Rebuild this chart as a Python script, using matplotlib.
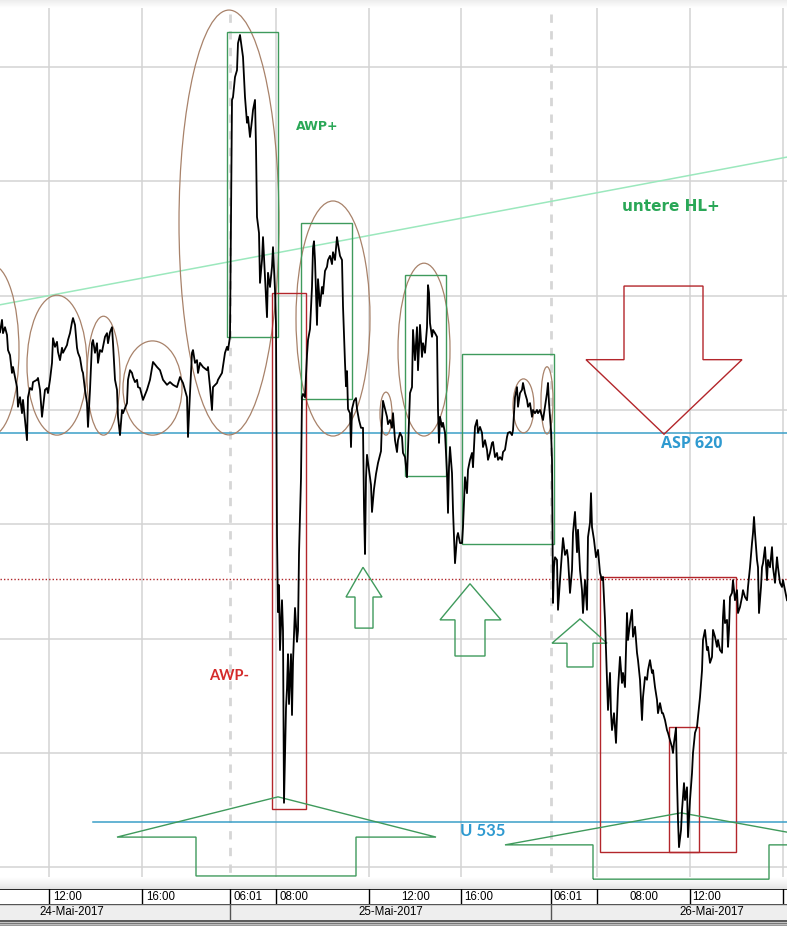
# %%
import numpy as np
import matplotlib.pyplot as plt
from matplotlib.patches import Ellipse, Rectangle, Polygon

# %%
# Kursverlauf (Balken-Index, Kurs) - abgelesen, je Handelstag
bars_24 = [0, 2, 3, 5, 7, 8, 10, 12, 13, 15, 17, 18, 20, 22, 23, 25, 27, 28, 30, 32, 33, 37, 38, 40,
           42, 43, 45, 47, 48, 50, 52, 53, 55, 57, 58, 60, 62, 63, 67, 68, 70, 72, 73, 75, 77, 78,
           80, 82, 83, 85, 87, 88, 90, 92, 93, 95, 97, 98, 100, 102, 103, 105, 107, 108, 110, 112,
           113, 115, 117, 118, 120, 122, 123, 125, 127, 128, 130, 132, 133, 135, 137, 138, 140, 143,
           147, 150, 153, 157, 160, 163, 167, 170, 173, 177, 180, 183, 187, 188, 190, 192, 193, 195,
           197, 198, 200, 203, 207, 208, 210, 212, 213, 217, 218, 222, 225, 227, 228, 230]
price_24 = [642.0, 644.7, 641.8, 643.1, 641.4, 638.1, 637.0, 633.1, 634.4, 632.2, 630.0, 625.7, 627.8,
            624.3, 627.2, 622.8, 618.4, 627.8, 629.8, 629.4, 631.1, 631.6, 632.0, 629.4, 623.5, 625.4,
            629.4, 629.8, 628.7, 631.6, 635.3, 640.7, 638.8, 639.9, 637.7, 635.9, 638.6, 637.5, 639.2,
            640.3, 641.8, 644.2, 645.1, 643.6, 638.6, 637.5, 636.4, 633.7, 633.1, 629.4, 626.5, 621.3,
            629.4, 639.6, 640.3, 637.5, 639.6, 635.3, 638.1, 637.7, 638.8, 641.0, 641.8, 639.6, 642.0,
            643.1, 639.6, 631.6, 629.4, 623.5, 619.5, 625.0, 624.3, 625.4, 626.5, 631.6, 633.7, 633.1,
            632.2, 631.1, 631.6, 630.0, 629.8, 627.2, 629.4, 631.6, 635.5, 634.4, 633.7, 631.6, 630.5,
            631.1, 630.5, 630.0, 632.2, 630.9, 627.8, 619.1, 628.7, 637.5, 638.1, 635.3, 635.9, 633.1,
            635.3, 634.4, 633.7, 634.4, 630.0, 625.0, 630.0, 630.9, 631.6, 633.1, 637.5, 638.8, 638.1,
            641.0]

bars_25 = [232, 233, 235, 237, 238, 240, 242, 243, 245, 247, 248, 250, 252, 253, 255, 256, 257, 259,
           260, 262, 263, 265, 267, 268, 270, 272, 273, 275, 276, 277, 278, 279, 280, 282, 283, 284,
           286, 287, 288, 289, 291, 292, 293, 295, 297, 298, 299, 301, 302, 303, 305, 307, 308, 310,
           312, 313, 314, 315, 317, 318, 320, 322, 323, 325, 327, 328, 330, 332, 333, 335, 337, 338,
           340, 342, 343, 345, 346, 347, 348, 350, 351, 352, 354, 356, 357, 359, 361, 363, 364, 365,
           366, 367, 369, 371, 372, 374, 376, 378, 379, 381, 382, 383, 385, 387, 388, 390, 392, 393,
           395, 397, 398, 400, 402, 403, 405, 407, 408, 410, 412, 413, 415, 417, 418, 420, 422, 423,
           425, 427, 428, 429, 430, 432, 433, 435, 437, 438, 439, 440, 442, 443, 445, 447, 448, 449,
           450, 452, 453, 454, 455, 457, 458, 460, 462, 463, 465, 467, 468, 470, 472, 473, 475, 477,
           478, 480, 482, 483, 485, 487, 488, 490, 492, 493, 495, 497, 498, 500, 502, 503, 505, 507,
           508, 510, 512, 513, 515, 517, 518, 520, 522, 523, 525, 527, 528, 530, 532, 533, 535, 537,
           538, 540, 542, 543, 545, 547, 548, 549, 551]
price_25 = [692.8, 693.4, 697.8, 699.3, 705.2, 707.0, 703.7, 702.2, 693.4, 687.8, 689.1, 684.7, 688.4,
            690.6, 692.8, 682.5, 667.2, 663.7, 652.8, 657.8, 662.8, 654.1, 645.3, 655.0, 651.9, 656.3,
            660.6, 651.2, 643.6, 597.7, 580.8, 586.7, 572.5, 583.4, 576.7, 539.1, 559.8, 564.2, 571.6,
            560.7, 571.6, 558.3, 569.9, 581.7, 574.3, 576.7, 593.5, 610.1, 627.8, 628.5, 627.8, 637.0,
            640.3, 642.7, 651.9, 660.4, 661.9, 657.8, 643.6, 653.6, 647.7, 651.9, 650.4, 655.4, 656.3,
            657.8, 658.7, 656.9, 659.5, 657.8, 662.8, 661.3, 658.7, 657.8, 647.7, 635.3, 630.2, 633.5,
            625.2, 624.3, 616.9, 625.2, 627.0, 627.6, 625.2, 622.8, 621.1, 621.1, 603.6, 593.5, 610.1,
            615.2, 611.9, 608.6, 602.7, 607.7, 611.0, 613.4, 614.3, 616.0, 622.8, 627.0, 625.2, 623.5,
            621.9, 622.8, 621.1, 624.3, 618.4, 615.8, 618.4, 620.0, 619.1, 615.6, 614.7, 610.3, 616.3,
            628.7, 630.0, 642.5, 635.9, 643.1, 633.7, 643.6, 636.6, 639.6, 637.5, 643.1, 652.3, 650.6,
            644.0, 641.0, 642.5, 641.8, 641.0, 625.0, 617.8, 623.5, 621.3, 622.2, 620.0, 611.2, 602.5,
            612.5, 616.9, 611.2, 603.1, 597.2, 591.5, 597.2, 598.1, 595.9, 595.9, 599.4, 610.3, 606.8,
            611.9, 614.1, 615.6, 612.5, 621.3, 622.8, 620.0, 621.3, 620.0, 616.9, 618.4, 616.3, 614.1,
            615.6, 617.8, 618.0, 614.7, 615.6, 614.1, 614.7, 614.1, 615.8, 616.3, 619.1, 620.0, 620.2,
            619.5, 620.6, 627.8, 630.0, 625.7, 628.7, 629.4, 630.9, 628.7, 627.2, 625.7, 626.5, 623.5,
            625.0, 624.3, 625.0, 624.3, 625.0, 623.5, 622.8, 625.7, 628.7, 630.9, 626.5, 620.6]

bars_26 = [552, 553, 554, 555, 557, 558, 560, 562, 563, 565, 567, 568, 570, 572, 573, 575, 577, 578,
           580, 582, 583, 585, 587, 588, 590, 591, 592, 594, 596, 598, 600, 602, 603, 605, 607, 608,
           610, 611, 612, 614, 616, 618, 620, 622, 623, 625, 627, 628, 630, 632, 633, 635, 637, 638,
           640, 642, 643, 645, 647, 648, 650, 652, 653, 655, 657, 658, 660, 662, 663, 665, 667, 668,
           670, 672, 673, 674, 676, 677, 678, 679, 681, 682, 684, 685, 687, 688, 690, 692, 693, 695,
           697, 698, 700, 702, 703, 705, 707, 708, 710, 712, 713, 715, 717, 718, 720, 722, 723, 724,
           725, 727, 728, 729, 730, 732, 733, 735, 737, 738, 740, 742, 743, 745, 747, 748, 750, 752,
           753, 754, 755, 757, 758, 759, 761, 762, 763, 765, 767, 768, 770, 772, 773, 775, 777, 778,
           780, 782, 783, 785, 787]
price_26 = [614.1, 582.8, 590.7, 592.8, 592.2, 581.3, 587.8, 593.9, 597.0, 593.3, 594.4, 592.6, 585.0,
            590.0, 598.1, 602.7, 593.9, 598.8, 590.0, 585.6, 580.6, 587.8, 581.3, 597.2, 600.3, 606.8,
            599.4, 596.6, 592.8, 594.4, 589.4, 587.8, 588.5, 579.1, 566.0, 559.4, 567.5, 558.7, 555.0,
            558.7, 552.2, 563.8, 571.0, 565.3, 567.5, 564.4, 580.6, 574.7, 578.4, 581.3, 575.4, 577.6,
            571.9, 570.3, 566.0, 557.2, 562.2, 566.6, 566.0, 568.1, 570.3, 567.5, 568.1, 564.4, 561.6,
            558.7, 560.9, 558.7, 558.7, 557.2, 555.0, 554.4, 552.8, 551.3, 550.0, 552.2, 555.5, 544.1,
            535.3, 529.4, 533.1, 537.5, 543.4, 539.7, 542.5, 531.6, 539.7, 545.6, 550.0, 554.4, 555.7,
            557.9, 562.2, 568.0, 574.7, 576.9, 572.5, 573.2, 569.7, 571.0, 576.9, 575.4, 573.2, 574.7,
            572.5, 571.9, 579.7, 583.4, 578.4, 579.1, 573.2, 576.9, 584.1, 585.0, 587.8, 583.4, 585.6,
            580.6, 581.9, 584.1, 585.6, 584.1, 583.4, 586.3, 590.6, 595.9, 598.1, 601.6, 598.1, 592.2,
            590.6, 580.6, 586.3, 590.6, 591.5, 595.0, 587.8, 592.2, 590.6, 595.0, 590.6, 587.2, 592.8,
            590.6, 587.2, 586.3, 587.8, 585.6, 583.4]

# Zeitachse
grid_bars = [49, 142, 276, 369, 461, 597, 690, 783]
session_bars = [230, 551]
time_label_bars = [53, 146, 233, 280, 401, 464, 554, 630, 692]
time_labels = ['12:00', '16:00', '06:01', '08:00', '12:00', '16:00', '06:01', '08:00', '12:00']
date_centers = [72, 391, 712]
date_labels = ['24-Mai-2017', '25-Mai-2017', '26-Mai-2017']
price_grid = [700, 675, 650, 625, 600, 575, 550, 525]

# Marken
asp_level = 620
u_level = 535
red_level = 588
hl_start = (0, 648.0)
hl_end = (787, 680.3)

# %%
fig = plt.figure(figsize=(7.87, 9.26), dpi=100)
fig.patch.set_facecolor('white')
ax = fig.add_axes([0, 37/926, 1, 889/926])
ax.set_xlim(0, 787)
ax.set_ylim(520.25, 714.65)
ax.axis('off')

# Raster
for g in grid_bars:
    ax.axvline(g, color='#d3d3d3', lw=1.1, zorder=0)
for g in session_bars:
    ax.axvline(g, color='#d6d6d6', lw=2, ls=(0, (3, 3)), zorder=0)
for g in price_grid:
    ax.axhline(g, color='#d3d3d3', lw=1.1, zorder=0)

# graue Verlaeufe oben / unten
grad = np.linspace(0, 1, 50).reshape(-1, 1)
ax.imshow(1 - grad, extent=(0, 787, 712.9, 714.65), cmap='Greys', vmin=0, vmax=6,
          aspect='auto', zorder=0.5)
ax.imshow(grad, extent=(0, 787, 520.25, 522.7), cmap='Greys', vmin=0, vmax=5,
          aspect='auto', zorder=0.5)

# Linien
ax.plot([hl_start[0], hl_end[0]], [hl_start[1], hl_end[1]], color='#9be8bd', lw=1.1, zorder=2)
ax.axhline(asp_level, color='#3a9fc7', lw=1.1, zorder=2)
ax.plot([93, 787], [u_level, u_level], color='#3a9fc7', lw=1.1, zorder=2)
ax.axhline(red_level, color='#b0262a', lw=1, ls=(0, (1, 1.5)), zorder=2)

# Ellipsen
brown = '#a8826a'
ellipses = [(-8, 638.1, 54, 37.2), (57, 634.8, 60, 30.6), (103.5, 632.5, 33, 26.0),
            (152.5, 629.8, 59, 20.6), (229, 666.0, 100, 92.9), (333, 645.0, 74, 51.4),
            (386, 624.2, 12, 9.4), (424, 638.2, 52, 37.8), (523.5, 625.9, 21, 11.8),
            (547, 627.1, 12, 14.7)]
for cx, cy, w, h in ellipses:
    ax.add_patch(Ellipse((cx, cy), w, h, fill=False, ec=brown, lw=0.9, zorder=3))

# Rechtecke
green = '#3f9a5c'
red = '#b3262b'
for x0, x1, top, bot in [(227, 278, 707.65, 640.96), (301, 352, 665.9, 627.4),
                         (405, 446, 654.5, 610.6), (462, 554, 637.2, 595.7)]:
    ax.add_patch(Rectangle((x0, bot), x1 - x0, top - bot, fill=False, ec=green, lw=1, zorder=3))
for x0, x1, top, bot in [(272, 306, 650.6, 537.7), (600, 736, 588.5, 528.3),
                         (669, 699, 555.6, 528.3)]:
    ax.add_patch(Rectangle((x0, bot), x1 - x0, top - bot, fill=False, ec=red, lw=1, zorder=3))

# Pfeile
ax.add_patch(Polygon([(624, 652.1), (703, 652.1), (703, 636.0), (742, 636.0), (664, 619.7),
                      (586, 636.0), (624, 636.0)], closed=True, fill=False, ec=red, lw=1, zorder=3))
up_arrows = [[(355, 577.3), (355, 584.1), (346, 584.1), (363, 590.6), (382, 584.1), (373, 584.1), (373, 577.3)],
             [(455, 571.2), (455, 579.1), (440, 579.1), (470, 587.0), (501, 579.1), (485, 579.1), (485, 571.2)],
             [(567, 568.8), (567, 574.0), (552, 574.0), (580, 579.3), (607, 574.0), (593, 574.0), (593, 568.8)],
             [(196, 523.1), (196, 531.6), (117, 531.6), (278, 540.4), (436, 531.6), (356, 531.6), (356, 523.1)],
             [(593, 522.4), (593, 529.9), (505, 529.9), (681, 536.9), (857, 529.9), (769, 529.9), (769, 522.4)]]
for pts in up_arrows:
    ax.add_patch(Polygon(pts, closed=True, fill=False, ec=green, lw=1, zorder=3, clip_on=True))

# Kurs
bars = bars_24 + bars_25 + bars_26
prices = price_24 + price_25 + price_26
ax.plot(bars, prices, color='black', lw=1.3, zorder=5)

# Beschriftungen
ax.text(296, 686.9, 'AWP+', color='#2aa757', fontsize=9, fontweight='bold', family='DejaVu Sans',
        va='center', ha='left', zorder=6)
ax.text(622, 669.4, 'untere HL+', color='#2aa757', fontsize=11, fontweight='bold', family='DejaVu Sans',
        va='center', ha='left', zorder=6)
ax.text(661, 617.6, 'ASP 620', color='#2f9ad0', fontsize=11.5, fontweight='bold', family='Open Sans',
        va='center', ha='left', zorder=6)
ax.text(460, 533.0, 'U 535', color='#2f9ad0', fontsize=12, fontweight='bold', family='Lato',
        va='center', ha='left', zorder=6)
ax.text(209, 566.8, 'AWP-', color='#d42a2a', fontsize=10.5, fontweight='bold', family='Lato',
        va='center', ha='left', zorder=6)

# %%
# Zeitleiste
axt = fig.add_axes([0, 22/926, 1, 15/926])
axt.set_xlim(0, 787)
axt.set_ylim(0, 1)
axt.axis('off')
axt.add_patch(Rectangle((0, 0), 787, 1, color='white', zorder=0))
axt.axhline(1, color='black', lw=1.2)
for g in grid_bars + session_bars:
    axt.axvline(g, color='black', lw=1)
for xb, lab in zip(time_label_bars, time_labels):
    axt.text(xb, 0.45, lab, fontsize=8.3, family='Liberation Sans', va='center', ha='left')

axd = fig.add_axes([0, 6/926, 1, 16/926])
axd.set_xlim(0, 787)
axd.set_ylim(0, 1)
axd.axis('off')
axd.add_patch(Rectangle((0, 0), 787, 1, color='#eeeeee', zorder=0))
axd.axhline(1, color='#555555', lw=1)
for g in session_bars:
    axd.axvline(g, color='#555555', lw=1)
for xc, lab in zip(date_centers, date_labels):
    axd.text(xc, 0.5, lab, fontsize=8.3, family='Liberation Sans', va='center', ha='center')

# Rahmen unten
axb = fig.add_axes([0, 0, 1, 6/926])
axb.set_xlim(0, 1)
axb.set_ylim(0, 6)
axb.axis('off')
axb.add_patch(Rectangle((0, 0), 1, 6, color='#d8d8d8', zorder=0))
axb.axhline(5.0, color='#444444', lw=1.2)
axb.axhline(3.0, color='#777777', lw=1)
axb.axhline(1.0, color='#999999', lw=1)

fig.savefig('out.png', dpi=100)
